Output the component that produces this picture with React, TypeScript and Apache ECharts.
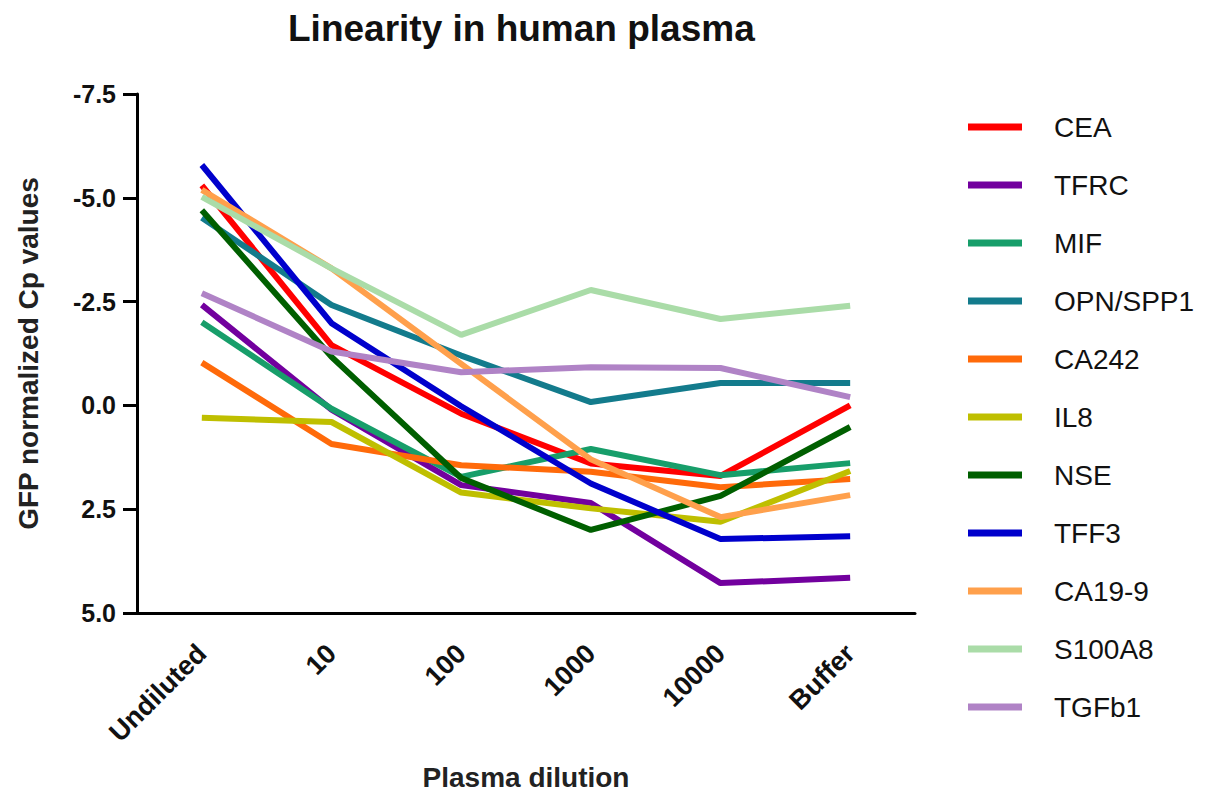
import React, { useEffect, useRef } from "react";
import * as echarts from "echarts";

const categories = ["Undiluted", "10", "100", "1000", "10000", "Buffer"];

const seriesNames = ["CEA", "TFRC", "MIF", "OPN/SPP1", "CA242", "IL8", "NSE", "TFF3", "CA19-9", "S100A8", "TGFb1"];

const CEA = [-5.3, -1.45, 0.2, 1.4, 1.7, 0.0];
const TFRC = [-2.42, 0.1, 1.92, 2.35, 4.28, 4.15];
const MIF = [-2.0, 0.08, 1.72, 1.05, 1.68, 1.39];
const OPN = [-4.52, -2.42, -1.2, -0.08, -0.54, -0.54];
const CA242 = [-1.03, 0.93, 1.44, 1.6, 1.97, 1.77];
const IL8 = [0.3, 0.4, 2.1, 2.48, 2.8, 1.58];
const NSE = [-4.7, -1.17, 1.75, 3.0, 2.18, 0.52];
const TFF3 = [-5.79, -1.98, 0.02, 1.88, 3.22, 3.15];
const CA199 = [-5.19, -3.3, -1.0, 1.3, 2.69, 2.16];
const S100A8 = [-5.02, -3.3, -1.7, -2.78, -2.08, -2.4];
const TGFb1 = [-2.7, -1.3, -0.8, -0.92, -0.9, -0.2];

const seriesValues = [CEA, TFRC, MIF, OPN, CA242, IL8, NSE, TFF3, CA199, S100A8, TGFb1];

const colors = ["#ff0000", "#72009e", "#179e6a", "#137b8c", "#ff6a0a", "#bfbf00", "#005f00", "#0000cc", "#ffa04c", "#aadca8", "#b083c6"];

const FONT = "Liberation Sans, Arial, sans-serif";

export default function App() {
  const ref = useRef<HTMLDivElement>(null);
  useEffect(() => {
    if (!ref.current) return;
    const chart = echarts.init(ref.current, null, { renderer: "svg" });
    chart.setOption({
      animation: false,
      backgroundColor: "#ffffff",
      title: {
        text: "Linearity in human plasma",
        left: 288,
        top: 10,
        padding: 0,
        textStyle: { fontFamily: FONT, fontSize: 37, fontWeight: "bold", color: "#111" },
      },
      legend: {
        orient: "vertical",
        left: 968,
        top: 112,
        padding: 0,
        icon: "rect",
        itemWidth: 54,
        itemHeight: 7,
        itemGap: 28,
        data: seriesNames,
        textStyle: { fontFamily: FONT, fontSize: 28, color: "#111", lineHeight: 30, padding: [0, 0, 0, 27] },
      },
      grid: { left: 137, right: 317, top: 94, bottom: 169, containLabel: false },
      xAxis: {
        type: "category",
        data: categories,
        boundaryGap: true,
        name: "Plasma dilution",
        nameLocation: "middle",
        nameGap: 150,
        nameTextStyle: { fontFamily: FONT, fontSize: 28, fontWeight: "bold", color: "#222" },
        axisLine: { onZero: false, lineStyle: { color: "#000", width: 3 } },
        axisTick: { alignWithLabel: true, length: 14, lineStyle: { width: 3, color: "#000" } },
        axisLabel: {
          rotate: 45,
          margin: 36,
          fontFamily: FONT,
          fontSize: 27,
          fontWeight: "bold",
          color: "#111",
        },
        splitLine: { show: false },
      },
      yAxis: {
        type: "value",
        inverse: true,
        min: -7.5,
        max: 5,
        interval: 2.5,
        name: "GFP normalized Cp values",
        nameLocation: "middle",
        nameGap: 95,
        nameTextStyle: { fontFamily: FONT, fontSize: 28, fontWeight: "bold", color: "#222" },
        axisLine: { show: true, onZero: false, lineStyle: { color: "#000", width: 3 } },
        axisTick: { show: true, length: 14, lineStyle: { width: 3, color: "#000" } },
        axisLabel: {
          margin: 21,
          fontFamily: FONT,
          fontSize: 25,
          fontWeight: "bold",
          color: "#111",
          formatter: (v: number) => v.toFixed(1),
        },
        splitLine: { show: false },
      },
      series: seriesNames.map((name, i) => ({
        name,
        type: "line",
        data: seriesValues[i],
        symbol: "none",
        color: colors[i],
        lineStyle: { width: 6, color: colors[i] },
      })),
    });
    return () => chart.dispose();
  }, []);
  return <div ref={ref} style={{ position: "fixed", left: 0, top: 0, width: 1232, height: 796 }} />;
}
